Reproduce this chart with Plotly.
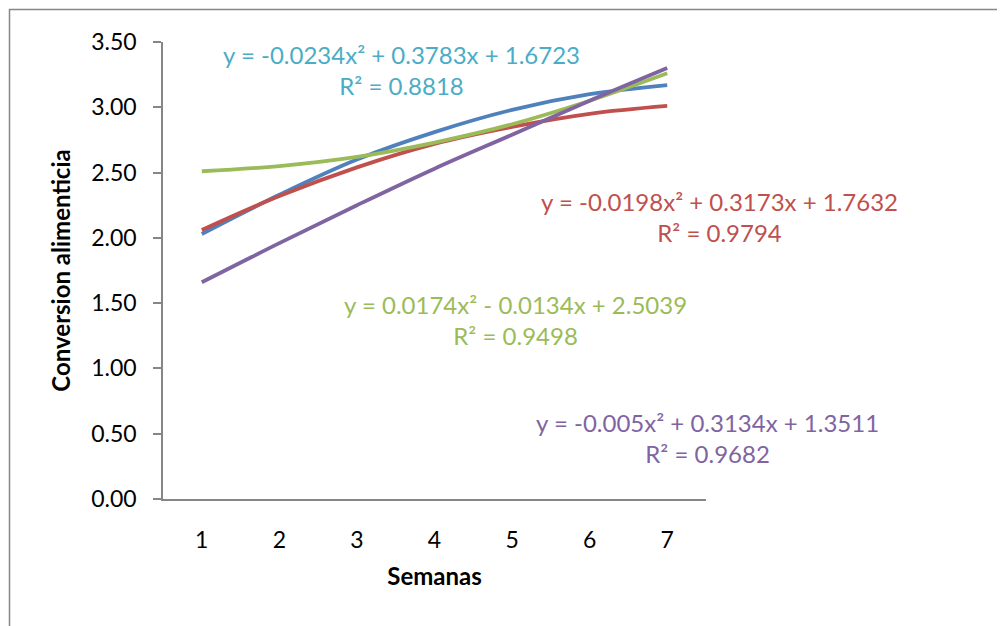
import plotly.graph_objects as go

semanas = [1, 2, 3, 4, 5, 6, 7]
serie_azul = [2.03, 2.33, 2.60, 2.81, 2.98, 3.10, 3.17]
serie_roja = [2.06, 2.32, 2.54, 2.72, 2.85, 2.95, 3.01]
serie_verde = [2.51, 2.55, 2.62, 2.73, 2.87, 3.05, 3.26]
serie_morada = [1.66, 1.96, 2.25, 2.53, 2.79, 3.05, 3.30]

y_ticks = [0.0, 0.5, 1.0, 1.5, 2.0, 2.5, 3.0, 3.5]
y_tick_text = ["0.00", "0.50", "1.00", "1.50", "2.00", "2.50", "3.00", "3.50"]

ecuaciones = [
    ("y = -0.0234x² + 0.3783x + 1.6723<br>R² = 0.8818", "#4BACC6", 401, 70),
    ("y = -0.0198x² + 0.3173x + 1.7632<br>R² = 0.9794", "#C0504D", 719, 217),
    ("y = 0.0174x² - 0.0134x + 2.5039<br>R² = 0.9498", "#9BBB59", 515, 320),
    ("y = -0.005x² + 0.3134x + 1.3511<br>R² = 0.9682", "#8064A2", 707, 438),
]

series = [
    (serie_azul, "#4F81BD"),
    (serie_roja, "#C0504D"),
    (serie_verde, "#9BBB59"),
    (serie_morada, "#8064A2"),
]

OFF = 8  # page body margin
W, H = 1005 - OFF, 626 - OFF
PL, PR, PT, PB = 163, 706, 42, 499  # plot area in screen pixels
L, T = PL - OFF, PT - OFF
pw, ph = PR - PL, PB - PT
R = W - L - pw
B = H - T - ph

def px_x(p):
    return (p - PL) / pw

def px_y(p):
    return (PB - p) / ph

fig = go.Figure()
for vals, col in series:
    fig.add_trace(go.Scatter(
        x=semanas, y=vals, mode="lines",
        line=dict(color=col, width=3.8, shape="spline", smoothing=1.0),
        showlegend=False, hoverinfo="skip",
    ))

for txt, col, cx, cy in ecuaciones:
    fig.add_annotation(
        x=px_x(cx), y=px_y(cy), xref="paper", yref="paper",
        text=txt, showarrow=False, align="center",
        xanchor="center", yanchor="middle",
        font=dict(family="Lato", size=24, color=col),
    )

# outer chart frame
fig.add_shape(type="rect", xref="paper", yref="paper",
              x0=px_x(9.5), x1=px_x(1100), y0=px_y(800), y1=px_y(9.5),
              line=dict(color="#868686", width=1.5), fillcolor="rgba(0,0,0,0)", layer="below")

fig.update_layout(
    width=W, height=H,
    margin=dict(l=L, r=R, t=T, b=B, pad=0),
    paper_bgcolor="white", plot_bgcolor="white",
    font=dict(family="Lato", color="black"),
    xaxis=dict(
        range=[0.5, 7.5], tickmode="array", tickvals=semanas,
        ticktext=[str(s) for s in semanas],
        showgrid=False, zeroline=False, showline=True,
        linecolor="#868686", linewidth=1.5, ticks="",
        tickfont=dict(family="Lato", size=23, color="black"),
        ticklabelstandoff=20,
        title=dict(text="<b>Semanas</b>", font=dict(family="Lato", size=24, color="black"), standoff=16),
    ),
    yaxis=dict(
        range=[0, 3.5], tickmode="array", tickvals=y_ticks, ticktext=y_tick_text,
        showgrid=False, zeroline=False, showline=True,
        linecolor="#868686", linewidth=1.5, ticks="outside", ticklen=8,
        tickcolor="#868686", tickwidth=1.5,
        tickfont=dict(family="Lato", size=23, color="black"),
        ticklabelstandoff=12,
        title=dict(text="<b>Conversion alimenticia</b>", font=dict(family="Lato", size=24, color="black"), standoff=14),
    ),
)

fig.write_html("out.html")
